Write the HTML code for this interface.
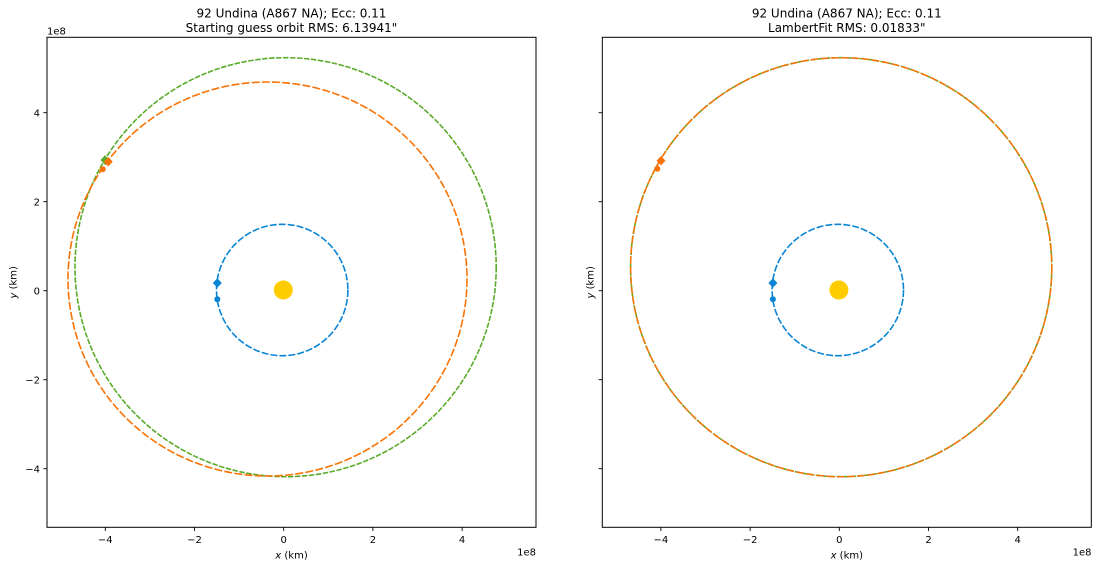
<!DOCTYPE html>
<html>
<head>
<meta charset="utf-8">
<style>
  html, body { margin: 0; padding: 0; background: #ffffff; }
  svg { display: block; }
  text { font-family: "DejaVu Sans", "Liberation Sans", sans-serif; fill: #000; }
</style>
</head>
<body>
<svg width="1098" height="568" viewBox="0 0 1098 568" xmlns="http://www.w3.org/2000/svg">
  <rect x="0" y="0" width="1098" height="568" fill="#ffffff"/>

  <!-- ================= LEFT AXES ================= -->
  <g>
    <ellipse cx="285.6" cy="267.2" rx="210.6" ry="209.5" fill="none" stroke="#5bab2a" stroke-width="1.6" stroke-dasharray="5.5 1.5"/>
    <ellipse cx="267.5" cy="279" rx="199.5" ry="197" fill="none" stroke="#f97306" stroke-width="1.6" stroke-dasharray="8 2.2"/>
    <circle cx="282.2" cy="290" r="65.7" fill="none" stroke="#0a85d6" stroke-width="1.6" stroke-dasharray="7 2"/>
    <circle cx="283.3" cy="290" r="9.5" fill="#ffcc00"/>
    <polygon points="217.3,278.3 221.8,283 217.3,287.7 212.8,283" fill="#0a85d6"/>
    <circle cx="217.3" cy="299.3" r="3" fill="#0a85d6"/>
    <polygon points="105,155.3 109.5,160 105,164.7 100.5,160" fill="#5bab2a"/>
    <circle cx="102.7" cy="169.3" r="3" fill="#f97306"/>
    <polygon points="108.3,157 112.8,161.7 108.3,166.4 103.8,161.7" fill="#f97306"/>

    <rect x="47" y="37.3" width="489" height="490" fill="none" stroke="#000" stroke-width="1"/>
    <g stroke="#000" stroke-width="0.9">
      <line x1="105.3" y1="527.3" x2="105.3" y2="531"/>
      <line x1="194.5" y1="527.3" x2="194.5" y2="531"/>
      <line x1="283.7" y1="527.3" x2="283.7" y2="531"/>
      <line x1="372.9" y1="527.3" x2="372.9" y2="531"/>
      <line x1="462.1" y1="527.3" x2="462.1" y2="531"/>
      <line x1="43.3" y1="112.7" x2="47" y2="112.7"/>
      <line x1="43.3" y1="201.7" x2="47" y2="201.7"/>
      <line x1="43.3" y1="290.7" x2="47" y2="290.7"/>
      <line x1="43.3" y1="379.7" x2="47" y2="379.7"/>
      <line x1="43.3" y1="468.7" x2="47" y2="468.7"/>
    </g>
    <g font-size="10" text-anchor="middle">
      <text x="105.3" y="543">−4</text>
      <text x="194.5" y="543">−2</text>
      <text x="283.7" y="543">0</text>
      <text x="372.9" y="543">2</text>
      <text x="462.1" y="543">4</text>
    </g>
    <g font-size="10" text-anchor="end">
      <text x="40" y="116.3">4</text>
      <text x="40" y="205.3">2</text>
      <text x="40" y="294.3">0</text>
      <text x="40" y="383.3">−2</text>
      <text x="40" y="472.3">−4</text>
    </g>
    <text x="47" y="34.5" font-size="10">1e8</text>
    <text x="536" y="555.5" font-size="10" text-anchor="end">1e8</text>
    <text x="291.5" y="558.5" font-size="10" text-anchor="middle"><tspan font-style="italic">x</tspan> (km)</text>
    <text transform="translate(16.5,282.3) rotate(-90)" font-size="10" text-anchor="middle"><tspan font-style="italic">y</tspan> (km)</text>
    <text x="291.5" y="17.5" font-size="12" text-anchor="middle">92 Undina (A867 NA); Ecc: 0.11</text>
    <text x="291.5" y="31.8" font-size="12" text-anchor="middle">Starting guess orbit RMS: 6.13941"</text>
  </g>

  <!-- ================= RIGHT AXES ================= -->
  <g>
    <ellipse cx="841.2" cy="267.2" rx="210.6" ry="209.5" fill="none" stroke="#5bab2a" stroke-width="1.6" stroke-dasharray="5.5 1.5"/>
    <ellipse cx="841.2" cy="267.2" rx="210.6" ry="209.5" fill="none" stroke="#f97306" stroke-width="1.5" stroke-dasharray="8 2.2"/>
    <circle cx="837.8" cy="290" r="65.7" fill="none" stroke="#0a85d6" stroke-width="1.6" stroke-dasharray="7 2"/>
    <circle cx="838.9" cy="290" r="9.5" fill="#ffcc00"/>
    <polygon points="772.9,278.3 777.4,283 772.9,287.7 768.4,283" fill="#0a85d6"/>
    <circle cx="772.9" cy="299.3" r="3" fill="#0a85d6"/>
    <circle cx="657.3" cy="168.7" r="3" fill="#f97306"/>
    <polygon points="661,156 665.5,160.7 661,165.4 656.5,160.7" fill="#f97306"/>

    <rect x="602.3" y="37.3" width="489" height="490" fill="none" stroke="#000" stroke-width="1"/>
    <g stroke="#000" stroke-width="0.9">
      <line x1="660.9" y1="527.3" x2="660.9" y2="531"/>
      <line x1="750.1" y1="527.3" x2="750.1" y2="531"/>
      <line x1="839.3" y1="527.3" x2="839.3" y2="531"/>
      <line x1="928.5" y1="527.3" x2="928.5" y2="531"/>
      <line x1="1017.7" y1="527.3" x2="1017.7" y2="531"/>
      <line x1="598.6" y1="112.7" x2="602.3" y2="112.7"/>
      <line x1="598.6" y1="201.7" x2="602.3" y2="201.7"/>
      <line x1="598.6" y1="290.7" x2="602.3" y2="290.7"/>
      <line x1="598.6" y1="379.7" x2="602.3" y2="379.7"/>
      <line x1="598.6" y1="468.7" x2="602.3" y2="468.7"/>
    </g>
    <g font-size="10" text-anchor="middle">
      <text x="660.9" y="543">−4</text>
      <text x="750.1" y="543">−2</text>
      <text x="839.3" y="543">0</text>
      <text x="928.5" y="543">2</text>
      <text x="1017.7" y="543">4</text>
    </g>
    <text x="1091.5" y="555.5" font-size="10" text-anchor="end">1e8</text>
    <text x="846.8" y="558.5" font-size="10" text-anchor="middle"><tspan font-style="italic">x</tspan> (km)</text>
    <text transform="translate(593.5,282.3) rotate(-90)" font-size="10" text-anchor="middle"><tspan font-style="italic">y</tspan> (km)</text>
    <text x="846.8" y="17.5" font-size="12" text-anchor="middle">92 Undina (A867 NA); Ecc: 0.11</text>
    <text x="846.8" y="31.8" font-size="12" text-anchor="middle">LambertFit RMS: 0.01833"</text>
  </g>
</svg>
</body>
</html>
